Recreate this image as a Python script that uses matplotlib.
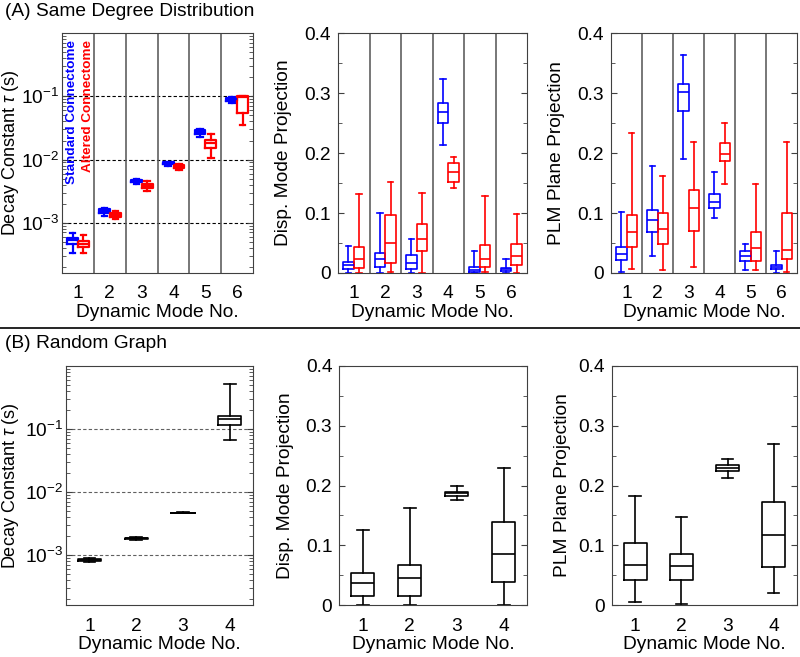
import numpy as np
import matplotlib.pyplot as plt
from matplotlib.lines import Line2D
from matplotlib.ticker import LogLocator, MultipleLocator, NullFormatter

plt.rcParams['font.family'] = ['Liberation Sans', 'DejaVu Sans']
plt.rcParams['mathtext.fontset'] = 'custom'
plt.rcParams['mathtext.rm'] = 'Liberation Sans'
plt.rcParams['mathtext.it'] = 'Liberation Sans:italic'

# each row: [whisker low, q1, median, q3, whisker high]
modes_a = [1, 2, 3, 4, 5, 6]
tau_std = [[3.27e-4, 4.67e-4, 5.25e-4, 5.8e-4, 6.8e-4],
           [1.26e-3, 1.42e-3, 1.53e-3, 1.63e-3, 1.73e-3],
           [4.1e-3, 4.36e-3, 4.57e-3, 4.73e-3, 4.9e-3],
           [8.0e-3, 8.4e-3, 8.7e-3, 9.0e-3, 9.25e-3],
           [0.0227, 0.0256, 0.0272, 0.029, 0.0308],
           [0.0784, 0.0844, 0.0907, 0.0952, 0.0977]]
tau_alt = [[3.35e-4, 4.17e-4, 4.6e-4, 5.1e-4, 6.45e-4],
           [1.13e-3, 1.23e-3, 1.32e-3, 1.42e-3, 1.51e-3],
           [3.17e-3, 3.58e-3, 3.85e-3, 4.14e-3, 4.5e-3],
           [6.9e-3, 7.35e-3, 7.8e-3, 8.1e-3, 8.4e-3],
           [0.0107, 0.0152, 0.0183, 0.0206, 0.0256],
           [0.0356, 0.0551, 0.0964, 0.100, 0.102]]
disp_std = [[0, 0.006, 0.0133, 0.019, 0.0456],
            [0, 0.010, 0.024, 0.034, 0.100],
            [0, 0.0067, 0.017, 0.030, 0.057],
            [0.214, 0.250, 0.268, 0.283, 0.324],
            [0, 0.0017, 0.005, 0.0094, 0.036],
            [0, 0.003, 0.006, 0.0083, 0.024]]
disp_alt = [[0, 0.009, 0.024, 0.043, 0.132],
            [0.002, 0.017, 0.050, 0.096, 0.152],
            [0, 0.037, 0.057, 0.082, 0.133],
            [0.141, 0.152, 0.169, 0.183, 0.194],
            [0.002, 0.0106, 0.0233, 0.0467, 0.129],
            [0, 0.014, 0.029, 0.049, 0.098]]
plm_std = [[0.001, 0.022, 0.032, 0.044, 0.102],
           [0.029, 0.069, 0.089, 0.105, 0.178],
           [0.190, 0.271, 0.302, 0.316, 0.363],
           [0.092, 0.108, 0.119, 0.131, 0.169],
           [0.005, 0.020, 0.028, 0.036, 0.049],
           [0, 0.0072, 0.0106, 0.014, 0.036]]
plm_alt = [[0.0067, 0.044, 0.068, 0.096, 0.234],
           [0.005, 0.049, 0.073, 0.100, 0.161],
           [0.0094, 0.070, 0.108, 0.139, 0.219],
           [0.149, 0.187, 0.198, 0.216, 0.251],
           [0.0044, 0.020, 0.041, 0.068, 0.149],
           [0.001, 0.024, 0.038, 0.100, 0.218]]

modes_b = [1, 2, 3, 4]
tau_rand = [[7.6e-4, 7.94e-4, 8.24e-4, 8.55e-4, 8.9e-4],
            [1.73e-3, 1.78e-3, 1.83e-3, 1.87e-3, 1.95e-3],
            [4.55e-3, 4.61e-3, 4.66e-3, 4.71e-3, 4.77e-3],
            [0.068, 0.1156, 0.142, 0.162, 0.52]]
disp_rand = [[0, 0.015, 0.037, 0.053, 0.126],
             [0, 0.0156, 0.0445, 0.0668, 0.163],
             [0.175, 0.183, 0.187, 0.190, 0.199],
             [0, 0.0378, 0.0863, 0.1386, 0.229]]
plm_rand = [[0.0045, 0.0417, 0.0668, 0.1035, 0.183],
            [0.001, 0.0428, 0.0651, 0.0851, 0.148],
            [0.213, 0.224, 0.230, 0.234, 0.245],
            [0.0206, 0.064, 0.118, 0.172, 0.27]]

FS = 13.8
SPINE = '#404040'


def stats(rows):
    return [dict(whislo=r[0], q1=r[1], med=r[2], q3=r[3], whishi=r[4]) for r in rows]


def boxes(ax, rows, pos, color, width, lw):
    p = dict(color=color, lw=lw)
    ax.bxp(stats(rows), positions=pos, widths=width, showfliers=False,
           manage_ticks=False, boxprops=p, whiskerprops=dict(p, linestyle='-'),
           capprops=p, medianprops=p)


def style(ax, modes, log, ylabel, label_x, grid_color='black'):
    ax.set_xlim(0.5, len(modes) + 0.5)
    ax.set_xticks(modes)
    ax.tick_params(axis='x', length=0, pad=9, labelsize=FS)
    ax.tick_params(axis='y', which='both', direction='in', left=True, right=True,
                   labelsize=FS, pad=2 if log else 5, color=SPINE)
    ax.tick_params(axis='y', which='major', length=4)
    ax.tick_params(axis='y', which='minor', length=3)
    ax.set_xlabel('Dynamic Mode No.', fontsize=FS, labelpad=1)
    ax.set_ylabel(ylabel, fontsize=13 if log else FS)
    ax.yaxis.set_label_coords(label_x, 0.5)
    for sp in ax.spines.values():
        sp.set_color(SPINE)
    if log:
        ax.set_yscale('log')
        ax.set_ylim(1.6e-4, 1)
        ax.set_yticks([1e-3, 1e-2, 1e-1])
        ax.set_yticklabels([r'$10^{-3}$', r'$10^{-2}$', r'$10^{-1}$'])
        ax.yaxis.set_minor_locator(LogLocator(subs=np.arange(2, 10)))
        ax.yaxis.set_minor_formatter(NullFormatter())
        for v in [1e-3, 1e-2, 1e-1]:
            ax.axhline(v, color=grid_color, lw=0.8, linestyle=(0, (3, 2)), zorder=0)
    else:
        ax.set_ylim(0, 0.4)
        ax.set_yticks([0, 0.1, 0.2, 0.3, 0.4])
        ax.set_yticklabels(['0', '0.1', '0.2', '0.3', '0.4'])
        ax.yaxis.set_minor_locator(MultipleLocator(0.05))


fig = plt.figure(figsize=(8, 6.57), dpi=100)

top = [(0.0775, 0.239, tau_std, tau_alt, True, r'Decay Constant $\tau$ (s)', -0.213),
       (0.4225, 0.2363, disp_std, disp_alt, False, 'Disp. Mode Projection', -0.243),
       (0.7638, 0.2325, plm_std, plm_alt, False, 'PLM Plane Projection', -0.247)]
for left, w, std, alt, log, lab, lx in top:
    ax = fig.add_axes([left, 0.5845, w, 0.365])
    pos = np.array(modes_a, dtype=float)
    lw = 1.6 if log else 1.2
    boxes(ax, std, pos - 0.17, 'blue', 0.34, lw)
    boxes(ax, alt, pos + 0.17, 'red', 0.34, lw)
    for k in modes_a[:-1]:
        ax.axvline(k + 0.5, color='#606060', lw=1.2, zorder=0.5)
    style(ax, modes_a, log, lab, lx)
    if log:
        ax.text(0.052, 0.97, 'Standard Connectome', transform=ax.transAxes, rotation=90,
                color='blue', fontweight='bold', fontsize=9.7, ha='center', va='top')
        ax.text(0.136, 0.97, 'Altered Connectome', transform=ax.transAxes, rotation=90,
                color='red', fontweight='bold', fontsize=9.7, ha='center', va='top')

bottom = [(0.0825, 0.234, tau_rand, True, r'Decay Constant $\tau$ (s)', -0.238),
          (0.424, 0.235, disp_rand, False, 'Disp. Mode Projection', -0.239),
          (0.765, 0.231, plm_rand, False, 'PLM Plane Projection', -0.222)]
for left, w, data, log, lab, lx in bottom:
    ax = fig.add_axes([left, 0.079, w, 0.364])
    boxes(ax, data, modes_b, 'black', 0.5, 1.2)
    style(ax, modes_b, log, lab, lx, grid_color='#606060')

fig.text(0.006, 1 - 12 / 657, '(A) Same Degree Distribution', fontsize=FS, va='center')
fig.text(0.006, 1 - 343 / 657, '(B) Random Graph', fontsize=FS, va='center')
fig.add_artist(Line2D([0, 1], [1 - 328 / 657] * 2, color='black', lw=1.2))

fig.savefig('out.png', dpi=100)
